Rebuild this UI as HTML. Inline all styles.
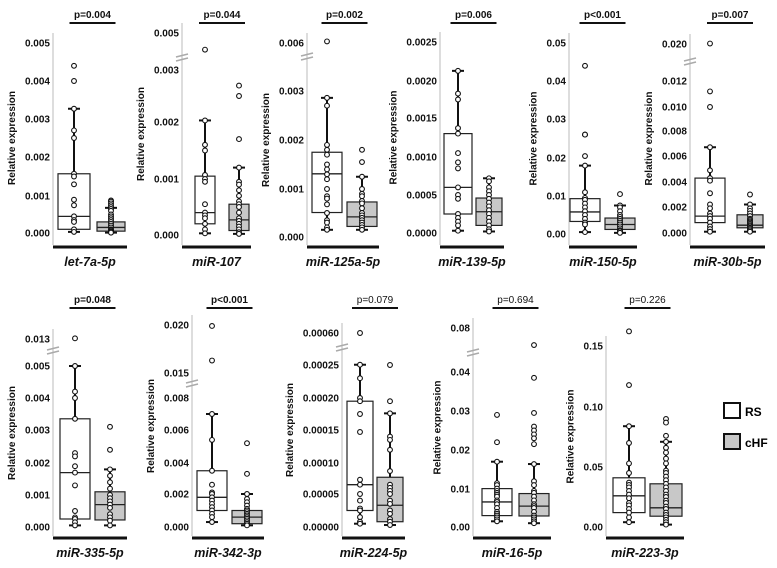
<!DOCTYPE html>
<html><head><meta charset="utf-8"><style>
html,body{margin:0;padding:0;background:#fff}
svg{display:block}
text{font-family:"Liberation Sans",Arial,sans-serif}
</style></head><body>
<svg id="fig" width="777" height="568" viewBox="0 0 777 568" xmlns="http://www.w3.org/2000/svg">
<g>
<rect x="724" y="403" width="16" height="15" fill="#fff" stroke="#111" stroke-width="2"/>
<text x="745" y="416" font-size="12" font-weight="bold">RS</text>
<rect x="724" y="434" width="16" height="15" fill="#c8c8c8" stroke="#111" stroke-width="2"/>
<text x="745" y="447" font-size="12" font-weight="bold">cHF</text>
</g>
</svg>
<script>
// ---- data: tick values, box stats [min, q1, median, q3, whiskerTop], points ----
const genes = ["let-7a-5p","miR-107","miR-125a-5p","miR-139-5p","miR-150-5p","miR-30b-5p","miR-335-5p","miR-342-3p","miR-224-5p","miR-16-5p","miR-223-3p"];
const pValues = ["p=0.004","p=0.044","p=0.002","p=0.006","p<0.001","p=0.007","p=0.048","p<0.001","p=0.079","p=0.694","p=0.226"];
const pBold = [true,true,true,true,true,true,true,true,false,false,false];
const tickLabels = [
 ["0.000","0.001","0.002","0.003","0.004","0.005"],
 ["0.000","0.001","0.002","0.003","0.005"],
 ["0.000","0.001","0.002","0.003","0.006"],
 ["0.0000","0.0005","0.0010","0.0015","0.0020","0.0025"],
 ["0.00","0.01","0.02","0.03","0.04","0.05"],
 ["0.000","0.002","0.004","0.006","0.008","0.010","0.012","0.020"],
 ["0.000","0.001","0.002","0.003","0.004","0.005","0.013"],
 ["0.000","0.002","0.004","0.006","0.008","0.015","0.020"],
 ["0.00000","0.00005","0.00010","0.00015","0.00020","0.00025","0.00060"],
 ["0.00","0.01","0.02","0.03","0.04","0.08"],
 ["0.00","0.05","0.10","0.15"]
];
const rsStats = [
 [0.00003,0.0001,0.00045,0.00157,0.00327],
 [0.00003,0.0002,0.0004,0.00105,0.00203],
 [0.00015,0.00051,0.00131,0.00175,0.00286],
 [0.00003,0.00025,0.0006,0.0013,0.00213],
 [0.0005,0.0033,0.0058,0.0093,0.018],
 [0.0001,0.0008,0.0013,0.0043,0.0067],
 [0.00005,0.00025,0.0017,0.00335,0.005],
 [0.0003,0.001,0.0018,0.0035,0.007],
 [0.000005,0.000025,0.000065,0.000195,0.000253],
 [0.0015,0.003,0.0066,0.0101,0.017],
 [0.004,0.012,0.026,0.041,0.084]
];
const chfStats = [
 [0.00001,0.00005,0.00015,0.0003,0.00068],
 [0.00002,0.00008,0.00027,0.00055,0.0012],
 [0.00015,0.00022,0.00042,0.00073,0.00125],
 [0.00002,0.0001,0.00028,0.00046,0.00072],
 [0.0003,0.0012,0.0025,0.0042,0.0075],
 [0.0001,0.0004,0.0006,0.0014,0.0022],
 [0.00005,0.00022,0.0007,0.0011,0.0018],
 [0.0001,0.0002,0.0006,0.001,0.002],
 [0.000003,0.000008,0.000033,0.000077,0.000176],
 [0.001,0.0029,0.0055,0.0088,0.0164],
 [0.002,0.009,0.016,0.036,0.071]
];
const rsPoints = [
 [0.0044,0.0040,0.00327,0.0027,0.0025,0.00157,0.0015,0.0013,0.0009,0.00075,0.00045,0.00035,0.0003,0.0001,0.00003],
 [0.0041,0.00203,0.0016,0.0015,0.00107,0.001,0.00095,0.00055,0.0004,0.00035,0.0003,0.0002,0.0001,0.00003],
 [0.0061,0.00286,0.0027,0.0019,0.0018,0.0017,0.0015,0.0014,0.0013,0.0012,0.001,0.00085,0.0008,0.00068,0.0005,0.00035,0.0003,0.0002,0.00015],
 [0.00213,0.00183,0.00175,0.00137,0.0013,0.00105,0.00093,0.00085,0.0006,0.0005,0.00045,0.00025,0.0002,0.00015,0.0001,0.00003],
 [0.044,0.026,0.026,0.0205,0.018,0.011,0.0095,0.009,0.008,0.007,0.006,0.005,0.004,0.003,0.0025,0.0005],
 [0.0201,0.0112,0.01,0.0067,0.0049,0.0043,0.0041,0.0031,0.0022,0.0019,0.0015,0.0013,0.0011,0.0008,0.0005,0.0003,0.0001],
 [0.0132,0.005,0.0042,0.004,0.00335,0.0023,0.0022,0.0019,0.0017,0.0013,0.0005,0.0003,0.00025,0.00015,0.00005],
 [0.0199,0.0163,0.007,0.0054,0.0035,0.0026,0.0021,0.002,0.0018,0.0016,0.0014,0.0012,0.001,0.0008,0.0006,0.0003],
 [0.0006,0.000253,0.00023,0.0002,0.000195,0.000175,0.000147,0.000073,0.000065,0.00005,0.00004,0.000028,0.000025,0.000015,0.000008,0.000005],
 [0.029,0.022,0.017,0.0115,0.011,0.0101,0.0095,0.009,0.0085,0.008,0.007,0.0066,0.006,0.005,0.004,0.0035,0.003,0.0025,0.002,0.0015],
 [0.162,0.118,0.084,0.07,0.053,0.045,0.037,0.035,0.033,0.03,0.027,0.024,0.02,0.018,0.015,0.012,0.008,0.004]
];
const chfPoints = [
 [0.00088,0.00085,0.0008,0.00075,0.0007,0.00065,0.0006,0.0005,0.00045,0.0004,0.00035,0.0003,0.00025,0.0002,0.00015,0.0001,0.00008,0.00005,0.00003,0.00001],
 [0.0027,0.0025,0.0017,0.0012,0.00095,0.0009,0.0008,0.0007,0.0006,0.00055,0.0005,0.0004,0.0003,0.00025,0.0002,0.00015,0.0001,0.00005,0.00002],
 [0.0018,0.00155,0.00125,0.001,0.0009,0.00085,0.00075,0.0007,0.0006,0.0005,0.00045,0.0004,0.00035,0.0003,0.00025,0.0002,0.00015],
 [0.00072,0.00068,0.0006,0.00055,0.0005,0.00045,0.0004,0.00035,0.0003,0.00025,0.0002,0.00015,0.0001,0.00005,0.00002],
 [0.0105,0.0075,0.007,0.006,0.005,0.0045,0.004,0.0035,0.003,0.0025,0.002,0.0015,0.001,0.0007,0.0003],
 [0.003,0.0022,0.0019,0.0017,0.0015,0.0013,0.0011,0.001,0.0009,0.0008,0.0007,0.0006,0.0005,0.0004,0.0003,0.0002,0.0001],
 [0.0031,0.0024,0.0018,0.0016,0.0014,0.0012,0.001,0.0009,0.0008,0.0007,0.0006,0.0004,0.0003,0.0002,0.00005],
 [0.0052,0.0033,0.002,0.0017,0.0015,0.0013,0.0011,0.001,0.0009,0.0008,0.0007,0.0006,0.0005,0.0004,0.0003,0.0002,0.0001],
 [0.00025,0.000195,0.000176,0.00014,0.000135,0.00012,0.000087,0.000065,0.00006,0.000055,0.00005,0.00004,0.000035,0.000025,0.00002,0.000012,0.000008,0.000003],
 [0.0645,0.0385,0.0295,0.026,0.025,0.024,0.023,0.0215,0.0164,0.012,0.011,0.0095,0.009,0.008,0.007,0.006,0.0055,0.005,0.004,0.003,0.0025,0.002,0.0015,0.001],
 [0.09,0.087,0.076,0.071,0.066,0.062,0.057,0.053,0.047,0.045,0.042,0.039,0.036,0.033,0.03,0.027,0.025,0.022,0.02,0.017,0.015,0.012,0.01,0.008,0.006,0.004,0.002]
];
// ---- layout (pixel geometry, not data) ----
const axisX = [53,182,307,440,569,690,53,192,342,473,606];
const tickY = [
 [233,196,157,119,81,43],[235,179,122,70,33],[237,189,140,91,43],[233,195,157,118,81,42],
 [234,196,158,119,81,43],[233,207,182,156,131,107,81,44],
 [527,495,463,430,398,366,339],[527,494,463,430,398,373,325],[527,494,463,430,398,365,333],
 [527,489,450,411,372,328],[527,467,407,346]
];
const breakY = [null,58,57,null,null,62,351,384,348,353,null];
const rsX = [74,205,327,458,585,710,75,212,360,497,629];
const chfX = [111,239,362,489,620,750,110,247,390,534,666];
const boxHW = [16,10,15,14,15,15,15,15,13,15,16];
const chfHW = [14,10,15,13,15,13,15,15,13,15,16];
const rowBase = [247,247,247,247,247,247,538,538,538,538,538];
const pY = [18,18,18,18,18,18,303,303,303,303,303];
const pBarY = [23,23,23,23,23,23,308,308,308,308,308];

const svg = document.getElementById('fig');
const NS = 'http://www.w3.org/2000/svg';
function mk(tag, attrs, parent){
  const e = document.createElementNS(NS, tag);
  for (const k in attrs) e.setAttribute(k, attrs[k]);
  (parent||svg).appendChild(e); return e;
}
function makeScale(vals, ys){
  return function(v){
    let i = 0;
    while (i < vals.length-2 && v > vals[i+1]) i++;
    const t = (v - vals[i])/(vals[i+1]-vals[i]);
    return ys[i] + t*(ys[i+1]-ys[i]);
  };
}
function drawBox(g, x, hw, st, y, fill, name){
  const bg = mk('g', {}, g);
  
  
  mk('line', {x1:x, x2:x, y1:y(st[0]), y2:y(st[4]), stroke:'#111', 'stroke-width':2}, bg);
  mk('line', {x1:x-6, x2:x+6, y1:y(st[4]), y2:y(st[4]), stroke:'#111', 'stroke-width':2}, bg);
  mk('line', {x1:x-6, x2:x+6, y1:y(st[0]), y2:y(st[0]), stroke:'#111', 'stroke-width':2}, bg);
  mk('rect', {x:x-hw, y:y(st[3]), width:2*hw, height:y(st[1])-y(st[3]), fill:fill, stroke:'#222', 'stroke-width':1.2}, bg);
  mk('line', {x1:x-hw, x2:x+hw, y1:y(st[2]), y2:y(st[2]), stroke:'#222', 'stroke-width':1.3}, bg);
}
function drawPts(g, x, pts, y, name){
  const pg = mk('g', {}, g);
  
  
  pts.forEach(v => {
    const c = mk('circle', {cx:x, cy:y(v), r:2.4, fill:'#fff', stroke:'#111', 'stroke-width':1.1}, pg);
    
    
  });
}
for (let p = 0; p < genes.length; p++){
  const g = mk('g', {});
  
  
  const vals = tickLabels[p].map(Number);
  const ys = tickY[p];
  const y = makeScale(vals, ys);
  const ax = axisX[p], base = rowBase[p];
  // axis line
  const axl = mk('line', {x1:ax, x2:ax, y1:ys[ys.length-1]-10, y2:base-2, stroke:'#bbb', 'stroke-width':1}, g);
  
  
  // tick labels
  let maxW = 0;
  tickLabels[p].forEach((lab, i) => {
    const t = mk('text', {x:ax-3, y:ys[i]+3.5, 'font-size':10, 'font-weight':'bold', 'text-anchor':'end', fill:'#111'}, g);
    t.textContent = lab;
    
    
    maxW = Math.max(maxW, (lab.length-1)*5.56 + 2.8);
  });
  // break
  if (breakY[p] !== null){
    const b = breakY[p];
    const bg = mk('g', {}, g);
    
    
    mk('line', {x1:ax-6, x2:ax+6, y1:b-1, y2:b-4, stroke:'#aaa', 'stroke-width':1.5}, bg);
    mk('line', {x1:ax-6, x2:ax+6, y1:b+3, y2:b, stroke:'#aaa', 'stroke-width':1.5}, bg);
  }
  // y label
  const cy = (ys[0] + ys[ys.length-1]) / 2;
  const lx = ax - 3 - maxW - 10;
  const yl = mk('text', {x:lx, y:cy, 'font-size':10, 'font-weight':'bold', 'text-anchor':'middle', transform:'rotate(-90 '+lx+' '+cy+')', fill:'#111'}, g);
  yl.textContent = 'Relative expression';
  
  
  // boxes
  drawBox(g, rsX[p], boxHW[p], rsStats[p], y, '#fff', 'box-rs');
  drawBox(g, chfX[p], chfHW[p], chfStats[p], y, '#c8c8c8', 'box-chf');
  drawPts(g, rsX[p], rsPoints[p], y, 'points-rs');
  drawPts(g, chfX[p], chfPoints[p], y, 'points-chf');
  // bottom line and gene label
  const right = chfX[p] + chfHW[p] + 2;
  const bl = mk('line', {x1:ax, x2:right, y1:base, y2:base, stroke:'#111', 'stroke-width':3}, g);
  
  
  const mid = (ax + right) / 2;
  const gl = mk('text', {x:mid, y:base+19, 'font-size':12.5, 'font-weight':'bold', 'font-style':'italic', 'text-anchor':'middle', fill:'#111'}, g);
  gl.textContent = genes[p];
  
  
  // p value
  const pc = (rsX[p] + chfX[p]) / 2;
  const pt = mk('text', {x:pc, y:pY[p], 'font-size':10, 'font-weight':pBold[p]?'bold':'normal', 'text-anchor':'middle', fill:'#111'}, g);
  pt.textContent = pValues[p];
  
  
  const pb = mk('line', {x1:pc-23, x2:pc+23, y1:pBarY[p], y2:pBarY[p], stroke:'#111', 'stroke-width':2}, g);
  
  
}
</script>
</body></html>
